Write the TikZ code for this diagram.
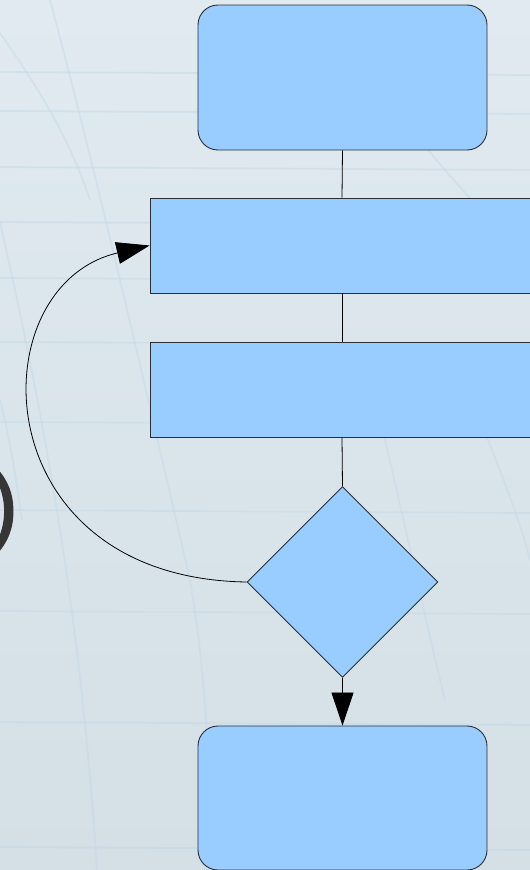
\documentclass[tikz,border=0pt]{standalone}
\usepackage{fontspec}
\newfontfamily\parenfont{Liberation Sans}
\usetikzlibrary{shapes.geometric,arrows.meta}

\definecolor{paper}{HTML}{E0EAF0}
\definecolor{paperlow}{HTML}{D4DFE6}
\definecolor{gridline}{HTML}{C2D8E8}
\definecolor{boxfill}{HTML}{99CCFF}
\definecolor{boxline}{HTML}{2A2F36}
\definecolor{markgray}{HTML}{363636}

\tikzset{
  flowbox/.style={draw=boxline, fill=boxfill, line width=0.9pt, inner sep=0pt},
  termbox/.style={flowbox, rectangle, rounded corners=20pt,
                  minimum width=289pt, minimum height=145pt},
  procbox/.style={flowbox, rectangle, minimum width=384pt, minimum height=95pt},
  decbox/.style={flowbox, diamond, aspect=1, minimum width=191pt, minimum height=191pt},
  link/.style={draw=black, line width=0.8pt},
  bigtip/.style={-{Triangle[length=33pt,width=22pt]}},
  grid paper/.style={draw=gridline, line width=1.8pt, opacity=0.45}
}

\begin{document}
\begin{tikzpicture}[x=1pt,y=-1pt]
  % page frame and paper background
  \useasboundingbox (0,0) rectangle (530,870);
  \clip (0,0) rectangle (530,870);
  \shade[top color=paper, bottom color=paperlow] (0,0) rectangle (530,870);

  % ruled grid of the paper sheet
  \foreach \yy in {72,111,167,222,278,342,422,510,611,722,847}
    \draw[grid paper] (0,\yy) -- (530,\yy+3);
  \draw[grid paper] (0,222) .. controls (40,400) and (80,600) .. (97,871);
  \draw[grid paper] (50,0) .. controls (90,150) and (130,320) .. (190,580)
                    .. controls (200,640) and (208,700) .. (212,871);
  \draw[grid paper] (0,33) .. controls (40,90) and (70,140) .. (90,200);
  \draw[grid paper] (0,400) .. controls (8,430) and (15,470) .. (22,520);
  \draw[grid paper] (380,420) .. controls (400,500) and (425,620) .. (445,700);
  \draw[grid paper] (480,420) .. controls (500,470) and (520,520) .. (530,560);
  \draw[grid paper] (420,140) .. controls (460,190) and (500,230) .. (530,260);

  % mark at the left margin, slightly emboldened
  \node[anchor=base, text=markgray, inner sep=0pt,
        font=\parenfont\fontsize{92}{92}\selectfont]
    (mark) at (3.2,535) {\special{pdf:literal 2 Tr 1.2 w}){\special{pdf:literal 0 Tr}}};

  % flowchart shapes
  \node[termbox] (start) at (342.5,77.5) {};
  \node[procbox] (stepa) at (342,245.5) {};
  \node[procbox] (stepb) at (342,390) {};
  \node[decbox]  (test)  at (342.5,582) {};
  \node[termbox, minimum height=144pt] (stop) at (342.5,798) {};

  % connectors
  \draw[link] (start.south) -- (stepa.north);
  \draw[link] (stepa.south) -- (stepb.north);
  \draw[link] (stepb.south) -- (test.north);
  \draw[link, bigtip] (test.south) -- (stop.north);
  \draw[link, bigtip] (test.west) .. controls +(-265,-4) and +(-172,40) .. (stepa.west);
\end{tikzpicture}
\end{document}
